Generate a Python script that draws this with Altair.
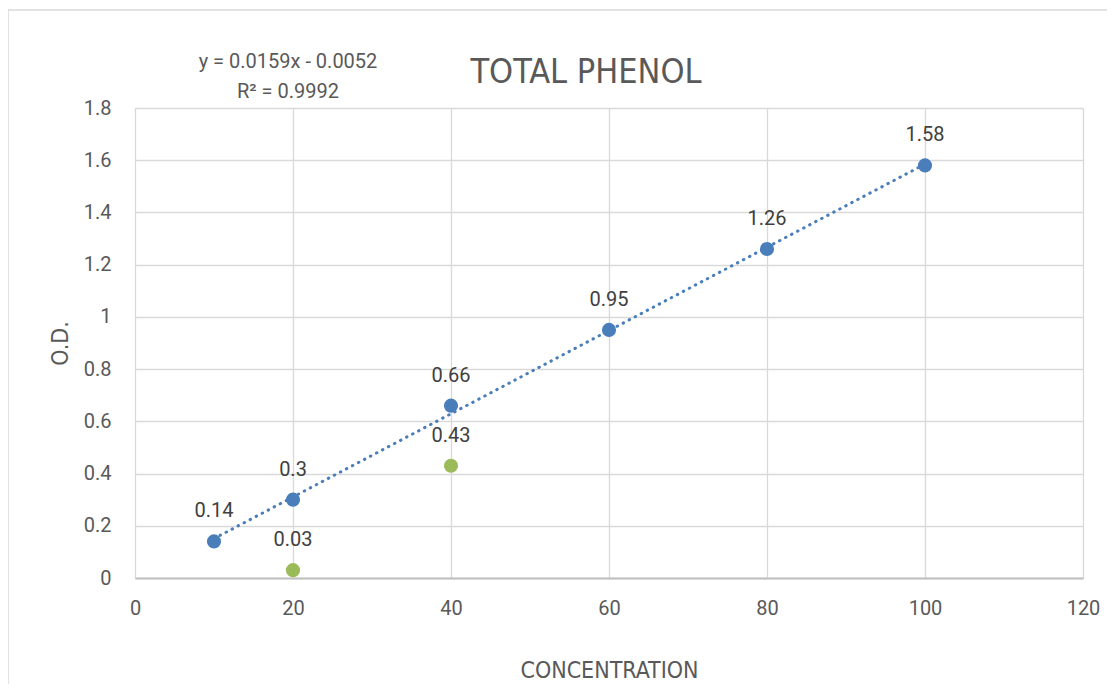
import altair as alt
import pandas as pd

# Data
blue_x = [10, 20, 40, 60, 80, 100]
blue_y = [0.14, 0.30, 0.66, 0.95, 1.26, 1.58]
green_x = [20, 40]
green_y = [0.03, 0.43]
x_ticks = [0, 20, 40, 60, 80, 100, 120]
y_ticks = [0, 0.2, 0.4, 0.6, 0.8, 1.0, 1.2, 1.4, 1.6, 1.8]
equation_lines = ["y = 0.0159x - 0.0052", "R² = 0.9992"]
chart_title = "TOTAL PHENOL"

BLUE = "#4a7ebb"
GREEN = "#9bbb59"
TXT = "#595959"
LBL = "#404040"
NUM_FONT = "Roboto"
TITLE_FONT = "'DejaVu Sans Condensed', 'Liberation Sans Narrow', Roboto, sans-serif"

blue = pd.DataFrame({"x": blue_x, "y": blue_y, "label": [f"{v:g}" for v in blue_y]})
green = pd.DataFrame({"x": green_x, "y": green_y, "label": [f"{v:g}" for v in green_y]})

xs = alt.Scale(domain=[0, 120], nice=False, zero=False)
ys = alt.Scale(domain=[0, 1.8], nice=False, zero=False)

xax = alt.Axis(values=x_ticks, title="CONCENTRATION", grid=True, gridColor="#d9d9d9", gridWidth=1.3,
               ticks=False, domain=True, domainColor="#bfbfbf", domainWidth=2,
               labelFont=NUM_FONT, labelFontSize=20, labelColor=TXT, labelPadding=20,
               titleFont=TITLE_FONT, titleFontSize=23, titleFontWeight="normal", titleColor=TXT,
               titleBaseline="alphabetic", titleY=99, labelFlush=False)
yax = alt.Axis(values=y_ticks, title="O.D.", grid=True, gridColor="#d9d9d9", gridWidth=1.3,
               ticks=False, domain=False, format="~g",
               labelFont=NUM_FONT, labelFontSize=20, labelColor=TXT, labelPadding=24,
               titleFont=TITLE_FONT, titleFontSize=23, titleFontWeight="normal", titleColor=TXT,
               titleBaseline="alphabetic", titleX=-68, labelFlush=False)

base_blue = alt.Chart(blue)

trend = base_blue.transform_regression("x", "y", extent=[10, 100]).mark_line(
    color=BLUE, strokeWidth=3, strokeCap="round", strokeDash=[0.5, 6.3]
).encode(x=alt.X("x:Q", scale=xs, axis=xax), y=alt.Y("y:Q", scale=ys, axis=yax))

blue_pts = base_blue.mark_circle(size=200, opacity=1, color=BLUE).encode(
    x=alt.X("x:Q", scale=xs), y=alt.Y("y:Q", scale=ys))
blue_lbl = base_blue.mark_text(font=NUM_FONT, fontSize=20, color=LBL, dy=-24, baseline="alphabetic").encode(
    x=alt.X("x:Q", scale=xs), y=alt.Y("y:Q", scale=ys), text="label:N")

green_pts = alt.Chart(green).mark_circle(size=200, opacity=1, color=GREEN).encode(
    x=alt.X("x:Q", scale=xs), y=alt.Y("y:Q", scale=ys))
green_lbl = alt.Chart(green).mark_text(font=NUM_FONT, fontSize=20, color=LBL, dy=-24, baseline="alphabetic").encode(
    x=alt.X("x:Q", scale=xs), y=alt.Y("y:Q", scale=ys), text="label:N")

one = pd.DataFrame({"k": [0]})
eq = alt.Chart(one).mark_text(font=NUM_FONT, fontSize=20, color=TXT, align="center",
                              baseline="alphabetic", lineHeight=29.5).encode(
    x=alt.value(153), y=alt.value(-40), text=alt.value(equation_lines))
title = alt.Chart(one).mark_text(font=TITLE_FONT, fontSize=34, color=TXT, align="center",
                                 baseline="alphabetic").encode(
    x=alt.value(451), y=alt.value(-25), text=alt.value(chart_title))
border = alt.Chart(one).mark_rect(fill=None, stroke="#d9d9d9", strokeWidth=1.5).encode(
    x=alt.value(-127), x2=alt.value(985), y=alt.value(-98), y2=alt.value(640))

chart = alt.layer(border, trend, green_pts, blue_pts, blue_lbl, green_lbl, eq, title).properties(
    width=948, height=470,
    autosize=alt.AutoSizeParams(type="none"),
    padding={"left": 127, "top": 100, "right": 24, "bottom": 106},
).configure_view(stroke=None).configure(background="white")

chart.save("out.html", embed_options={"renderer": "svg", "actions": False})
